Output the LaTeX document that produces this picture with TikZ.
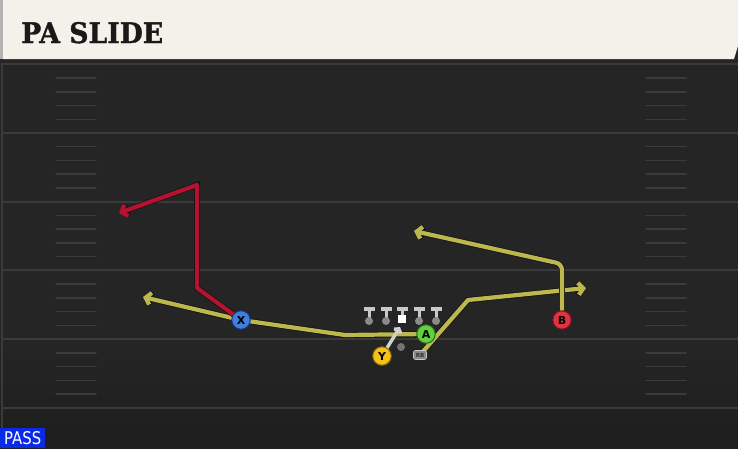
\documentclass[tikz,border=0pt]{standalone}
\usepackage{fontspec}
\setmainfont{DejaVu Sans}
\newfontfamily\titlefont{DejaVu Serif Bold}[FakeBold=1.2]
\usetikzlibrary{arrows.meta}
\definecolor{field}{HTML}{252525}
\definecolor{fielddark}{HTML}{1e1e1e}
\definecolor{yardline}{HTML}{3a3a3a}
\definecolor{hashcol}{HTML}{3b3b3b}
\definecolor{cream}{HTML}{F4F1EA}
\definecolor{passblue}{HTML}{0B2AE6}
\definecolor{routeyellow}{HTML}{BCB84E}
\definecolor{routered}{HTML}{B3132E}
\definecolor{routeedge}{HTML}{141414}
\definecolor{xblue}{HTML}{3F7FE0}
\definecolor{xblueedge}{HTML}{1B3A7A}
\definecolor{agreen}{HTML}{5FD13C}
\definecolor{agreenedge}{HTML}{2A6B1A}
\definecolor{bred}{HTML}{E1323F}
\definecolor{brededge}{HTML}{7A1020}
\definecolor{yyellow}{HTML}{F4C21A}
\definecolor{yyellowedge}{HTML}{8A6A00}
\definecolor{linegrey}{HTML}{C8C8C8}
\definecolor{dotgrey}{HTML}{8A8A8A}
\pgfdeclarelayer{back}
\pgfdeclarelayer{bg}
\pgfsetlayers{back,bg,main}
\begin{document}
\begin{tikzpicture}[x=1pt,y=-1pt,
  route/.style={line width=4.2pt, line join=round, line cap=round,
    -{Straight Barb[length=5pt,width=12pt]},
    preaction={draw=routeedge, line width=5.8pt}},
  player/.style={circle, minimum size=18.5pt, inner sep=0pt, line width=1pt,
    font=\fontsize{11}{11}\selectfont\bfseries, text=black},
  linedot/.style={circle, fill=dotgrey, minimum size=8pt, inner sep=0pt},
  tbar/.style={draw=linegrey, line width=3.6pt},
  tstem/.style={draw=linegrey, line width=3pt},
  hashmark/.style={draw=hashcol, line width=1.5pt, line cap=round},
  yard/.style={draw=yardline, line width=2pt}
]
\useasboundingbox (0,0) rectangle (738,448);
\begin{pgfonlayer}{back}
% field
\fill[field] (0,0) rectangle (738,448);
\shade[top color=field, bottom color=fielddark] (0,340) rectangle (738,448);
\draw[draw=yardline, line width=1.5pt] (2,60) -- (2,448);
% yard lines and hashes
\foreach \n in {0,...,5} {
  \draw[yard] (3,{64.3+68.7*\n}) -- (738,{64.3+68.7*\n});
}
\foreach \n in {0,...,4} {
  \foreach \k in {1,...,4} {
    \draw[hashmark] (56,{64.3+68.7*\n+13.74*\k}) -- (96,{64.3+68.7*\n+13.74*\k});
    \draw[hashmark] (646,{64.3+68.7*\n+13.74*\k}) -- (686,{64.3+68.7*\n+13.74*\k});
  }
}
% header
\fill[black!85] (0,58) rectangle (738,63);
\fill[cream] (3,0) -- (738,0) -- (738,46) -- (734,59) -- (3,59) -- cycle;
\fill[black!30] (0,0) rectangle (3,59);
\end{pgfonlayer}
\node[anchor=base west, inner sep=0pt, text=black!90] (title) at (21,43)
  {\resizebox{142pt}{21pt}{\titlefont PA SLIDE}};
% pass label
\node[fill=passblue, anchor=south west, inner xsep=4pt, inner ysep=3.5pt,
  minimum width=45pt, text=white] (pass) at (0,448)
  {\resizebox{37pt}{13pt}{PASS}};
% players
\node[player, fill=xblue, draw=xblueedge] (X) at (241,320) {X};
\node[player, fill=agreen, draw=agreenedge] (A) at (426,334) {A};
\node[player, fill=bred, draw=brededge] (B) at (562,320) {B};
\node[player, fill=yyellow, draw=yyellowedge] (Y) at (382,356) {Y};
\node[rounded corners=2pt, fill=dotgrey, draw=linegrey, line width=0.6pt,
  minimum width=13pt, minimum height=9pt, inner sep=0pt,
  font=\fontsize{5.5}{5.5}\selectfont\bfseries, text=black!80] (RB) at (420,355) {RB};
\node[circle, fill=black!55, minimum size=8pt, inner sep=0pt] (QB) at (401,347) {};
% offensive line
\foreach \nm/\x in {LT/369,LG/386,RG/419,RT/436} {
  \draw[tbar] (\x-5.5,309) -- (\x+5.5,309);
  \draw[tstem] (\x,309) -- (\x,320);
  \node[linedot] (\nm) at (\x,321) {};
}
\draw[tbar] (396.5,309) -- (407.5,309);
\draw[tstem] (402,309) -- (402,315);
\node[fill=white, minimum size=8pt, inner sep=0pt] (C) at (402,319) {};
% route waypoints
\coordinate (a1) at (345,335);
\coordinate (a2) at (143,297);
\coordinate (x1) at (197,288);
\coordinate (x2) at (197,185);
\coordinate (x3) at (119,213);
\coordinate (r1) at (468,300);
\coordinate (r2) at (586,288);
\coordinate (b1) at (562,264);
\coordinate (b2) at (414,231);
\coordinate (y1) at (400,327);
\begin{pgfonlayer}{bg}
  \draw[route, draw=routeyellow] (A.center) -- (a1) -- (X.center) -- (a2);
  \draw[route, draw=routeyellow] (RB.center) -- (r1) -- (r2);
  \draw[route, draw=routeyellow, rounded corners=6pt] (B.center) -- (b1) -- (b2);
  \draw[route, draw=routered] (X.center) -- (x1) -- (x2) -- (x3);
  \draw[draw=linegrey!85, line width=3.4pt, -{Straight Barb[length=3pt,width=8pt]}] (Y.center) -- (y1);
\end{pgfonlayer}
\end{tikzpicture}
\end{document}
